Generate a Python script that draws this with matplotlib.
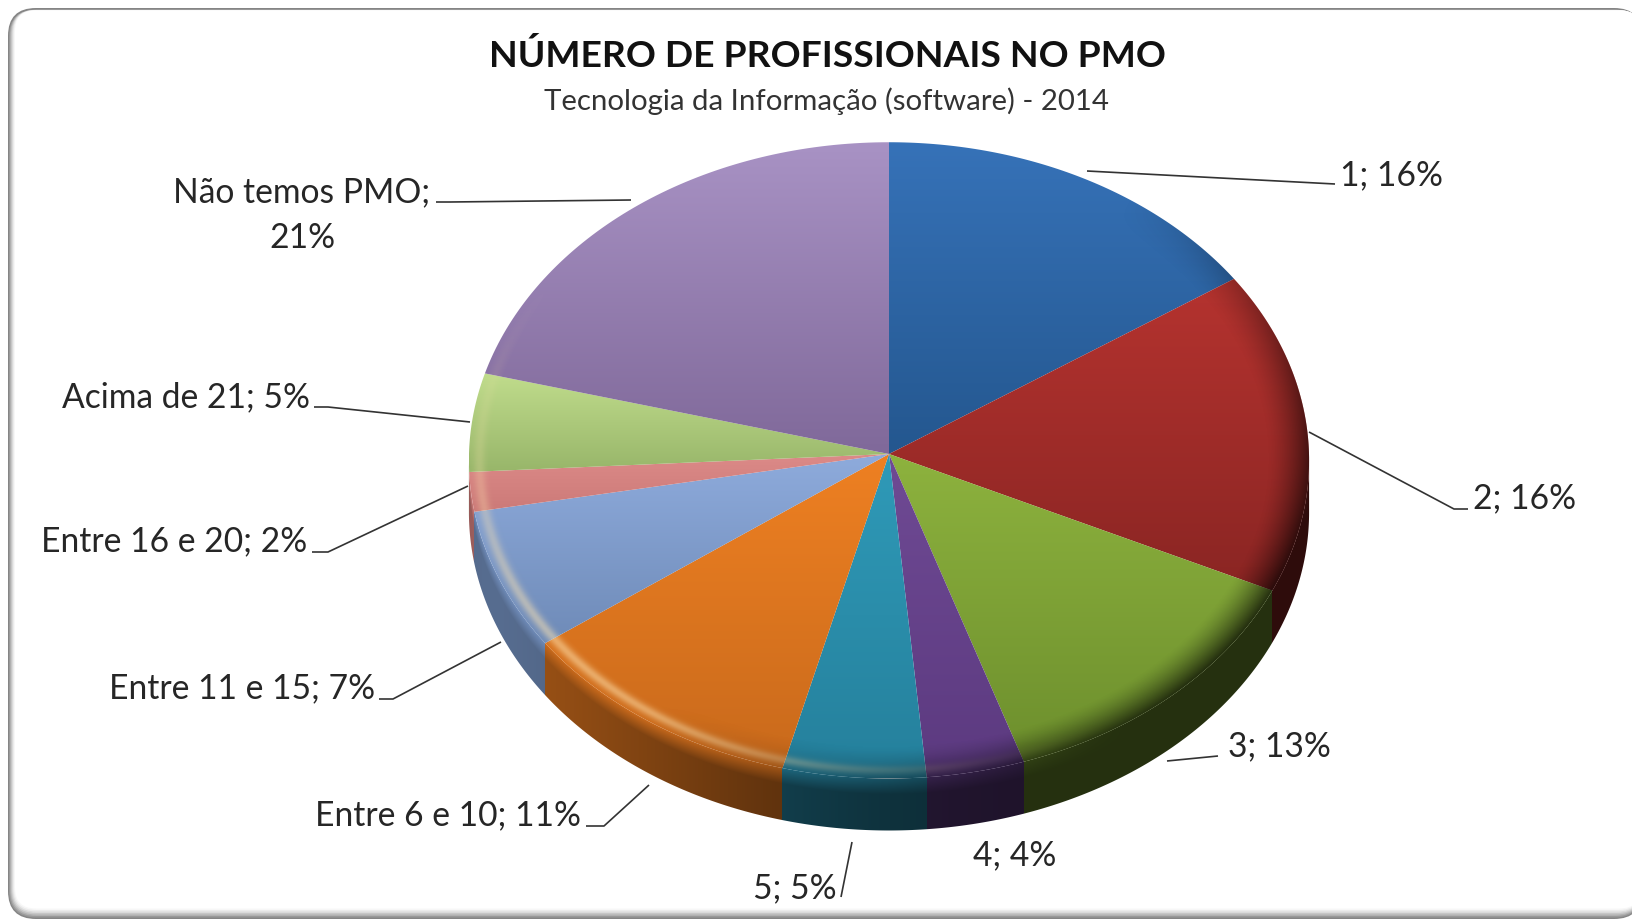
import matplotlib
matplotlib.use('Agg')
import matplotlib.pyplot as plt
from matplotlib.colors import to_rgb
from matplotlib.patches import FancyBboxPatch, Polygon
import numpy as np

plt.rcParams['font.family'] = ['Lato', 'DejaVu Sans']

# data
categories = ['1', '2', '3', '4', '5', 'Entre 6 e 10', 'Entre 11 e 15',
              'Entre 16 e 20', 'Acima de 21', 'Não temos PMO']
values = [15.6, 16.4, 12.9, 3.7, 5.4, 11.0, 7.1, 2.0, 5.0, 20.9]
colors_top = ['#3672b8', '#b5332f', '#8db23e', '#6f4a94', '#2f9ab8',
              '#ee8022', '#8eabdc', '#dc8a88', '#c0dc8c', '#a892c4']
colors_bottom = ['#24578f', '#8a2523', '#6d8f2d', '#5c3a80', '#25809c',
                 '#c96a1c', '#6f8bb8', '#cc7a78', '#98b66a', '#80699a']
title = 'NÚMERO DE PROFISSIONAIS NO PMO'
subtitle = 'Tecnologia da Informação (software) - 2014'

# pie geometry, in pixels
CX, CY = 889, 455
RX, RY = 420, 318
PERSP = 0.02
DEPTH = 52
DARK_RIM = 0.72

# label layout for each category: x, y, ha, leader line
layout = [
    (1340, 175, 'left', [(1087, 172), (1335, 185)]),
    (1473, 498, 'left', [(1309, 433), (1454, 510), (1468, 510)]),
    (1228, 746, 'left', [(1167, 762), (1218, 757)]),
    (973, 855, 'left', None),
    (837, 888, 'right', [(852, 843), (841, 898)]),
    (581, 815, 'right', [(649, 786), (604, 827), (586, 827)]),
    (375, 688, 'right', [(501, 643), (393, 700), (379, 700)]),
    (307, 541, 'right', [(468, 487), (328, 553), (312, 553)]),
    (310, 397, 'right', [(470, 423), (328, 408), (314, 408)]),
    (302, 215, 'center', [(631, 201), (450, 203), (436, 203)]),
]


def ellipse_xy(theta, r=1.0, dy=0.0):
    # theta in degrees, clockwise from the top, slight perspective
    t = np.radians(theta)
    c, s = np.cos(t) * r, np.sin(t) * r
    w = 1 + PERSP * c
    return CX + RX * s / w, CY - RY * c / w + dy


def rim_dark(ang):
    return np.clip(np.cos(np.radians(ang - 125)), 0, 1) ** 1.2


fig = plt.figure(figsize=(16.32, 9.2), dpi=100, facecolor='white')
ax = fig.add_axes([0, 0, 1, 1])
ax.axis('off')

# frame with soft grey edge, thick on the left and bottom
greys = ['#858585', '#999999', '#b0b0b0', '#c6c6c6', '#dadada', '#ebebeb', '#f7f7f7', 'white']
for i, g in enumerate(greys):
    left = 8 + i
    top = 9 + (1.6 if i else 0) + 0.1 * i
    right = 1642 - 0.2 * i
    bottom = 920 - 1.5 * i
    ax.add_patch(FancyBboxPatch((left, top), right - left, bottom - top,
                                boxstyle='round,pad=0,rounding_size=%d' % (28 - i),
                                fc=g, ec='none', zorder=0))

edges = np.cumsum([0] + values) / sum(values) * 360

# side of the pie, one pixel grid over the front half
front = np.linspace(91.2, 268.8, 2000)
fx, fy = ellipse_xy(front)
x0, x1 = int(fx.min()) - 1, int(fx.max()) + 2
y0, y1 = int(CY), int(fy.max() + DEPTH) + 2
gx, gy = np.meshgrid(np.arange(x0, x1) + 0.5, np.arange(y0, y1) + 0.5)
theta = np.interp(gx, fx[::-1], front[::-1])
_, rim = ellipse_xy(theta)
t = np.clip((gy - rim) / DEPTH, 0, 1)
idx = np.clip(np.searchsorted(edges, theta, side='right') - 1, 0, len(values) - 1)
low = np.array([to_rgb(c) for c in colors_bottom])[idx]
lit = np.clip(np.cos(np.radians(theta - 250)), 0, 1) ** 2
shade = 0.34 + 0.44 * lit
start = np.maximum(1 - DARK_RIM * rim_dark(theta), shade)
u = np.clip(t / 0.3, 0, 1)
side = low * (start * (1 - u) + shade * u)[..., None]
side_poly = Polygon(np.vstack([np.column_stack(ellipse_xy(front)),
                               np.column_stack(ellipse_xy(front[::-1], dy=DEPTH))]),
                    closed=True, fc='none', ec='none')
ax.add_patch(side_poly)
im = ax.imshow(side, extent=[x0, x1, y1, y0], aspect='auto', interpolation='nearest', zorder=1)
im.set_clip_path(side_poly)

# top face, one gradient per slice
for i, v in enumerate(values):
    thetas = np.linspace(edges[i], edges[i + 1], 80)
    xs, ys = ellipse_xy(thetas)
    pts = np.vstack([[CX, CY], np.column_stack([xs, ys])])
    poly = Polygon(pts, closed=True, fc='none', ec='none')
    ax.add_patch(poly)
    top, bot = np.array(to_rgb(colors_top[i])), np.array(to_rgb(colors_bottom[i]))
    grad = np.linspace(top, bot, 64).reshape(64, 1, 3)
    im = ax.imshow(grad, extent=[pts[:, 0].min(), pts[:, 0].max(), pts[:, 1].max(), pts[:, 1].min()],
                   aspect='auto', interpolation='bilinear', zorder=2)
    im.set_clip_path(poly)

# bevel on the rim of the top face, as a translucent overlay
x0, x1 = CX - RX - 12, CX + RX + 12
y0, y1 = CY - RY - 12, CY + RY + 16
gx, gy = np.meshgrid(np.arange(x0, x1) + 0.5, np.arange(y0, y1) + 0.5)
px = (gx - CX) / RX
py = -(gy - CY) / RY
c = py / (1 - PERSP * py)
s = px * (1 + PERSP * c)
rr = np.hypot(c, s)
ang = np.degrees(np.arctan2(s, c)) % 360
lit = np.clip(np.cos(np.radians(ang - 228)), 0, 1) ** 3
hi = np.exp(-((rr - 0.975) / 0.014) ** 2) * lit * 0.5
lo = np.clip((rr - 0.9) / 0.1, 0, 1) ** 1.5 * rim_dark(ang) * DARK_RIM
alpha = np.clip(hi + lo, 0, 1)
weight = hi / np.maximum(hi + lo, 1e-6)
overlay = np.zeros(gx.shape + (4,))
overlay[..., 0] = weight * 1.0
overlay[..., 1] = weight * 0.9
overlay[..., 2] = weight * 0.7
overlay[..., 3] = alpha
ring = Polygon(np.column_stack(ellipse_xy(np.linspace(0, 360, 720))), closed=True, fc='none', ec='none')
ax.add_patch(ring)
im = ax.imshow(overlay, extent=[x0, x1, y1, y0], aspect='auto', interpolation='nearest', zorder=3)
im.set_clip_path(ring)

# labels and leader lines
for cat, v, (x, y, ha, line) in zip(categories, values, layout):
    text = '%s; %d%%' % (cat, round(v))
    if cat == 'Não temos PMO':
        text = text.replace('; ', ';\n')
    ax.text(x, y, text, ha=ha, va='center', fontsize=24.2, color='#262626',
            linespacing=1.5, zorder=5)
    if line:
        ax.plot([p[0] for p in line], [p[1] for p in line], color='#333333',
                lw=1.2, zorder=4, solid_capstyle='butt')

ax.text(827, 56, title, ha='center', va='center', fontsize=26.8, fontweight='bold',
        color='#111111', zorder=5)
ax.text(827, 101, subtitle, ha='center', va='center', fontsize=21.2,
        color='#333333', zorder=5)

ax.set_xlim(0, 1632)
ax.set_ylim(920, 0)
fig.savefig('out.png', dpi=100, facecolor=fig.get_facecolor())
